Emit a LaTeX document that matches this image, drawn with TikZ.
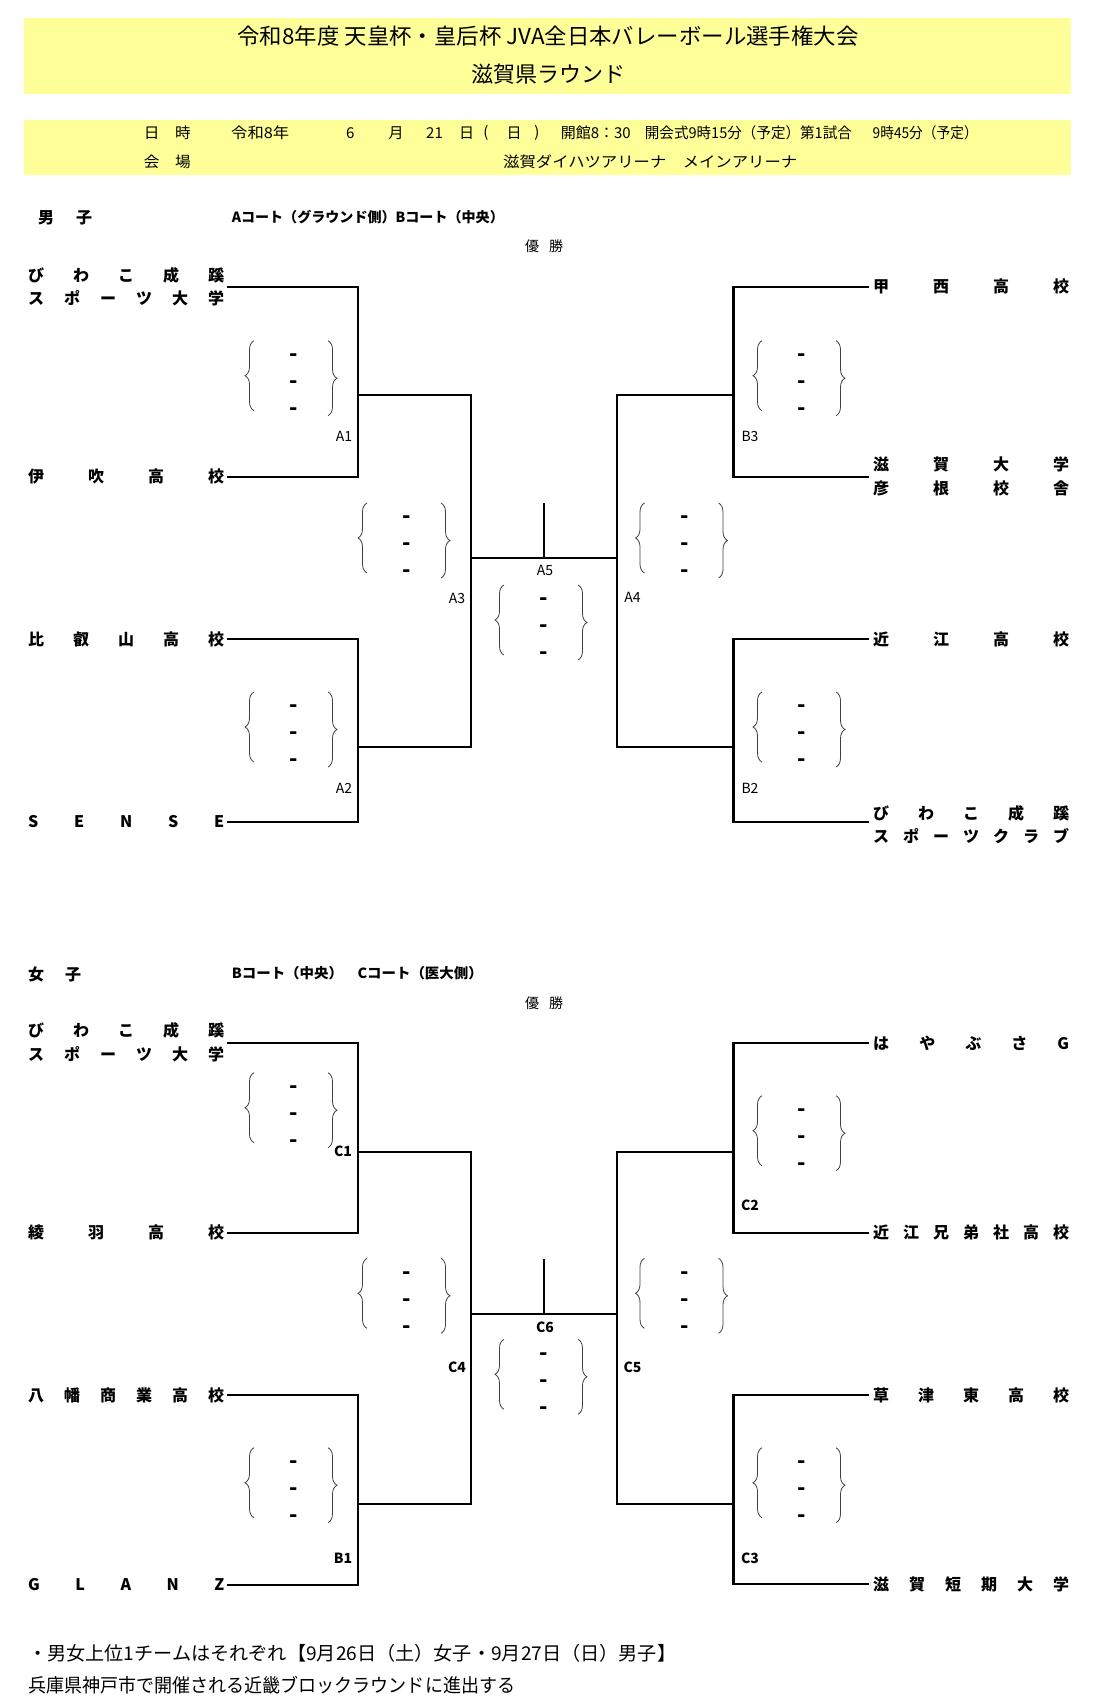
\documentclass[tikz,border=0pt]{standalone}
\usepackage{fontspec}
\setmainfont{Noto Sans CJK JP}
\usepackage{graphicx}
\usetikzlibrary{decorations.pathreplacing}
\definecolor{hdr}{RGB}{255,255,153}
\newcommand\fitw[3]{\resizebox{#1}{\height}{\fontsize{#2}{#2}\selectfont #3}}
\newcommand\spr[1]{\makebox[196pt][s]{#1}}
\newcommand\matchbox[3]{%
 \node[dashmark] (#1x) at (#2,#3+17) {-};
 \node[dashmark] (#1y) at (#2,#3+44) {-};
 \node[dashmark] (#1z) at (#2,#3+71) {-};
 \draw[brc] (#2-40,#3+70) -- (#2-40,#3);
 \draw[brc] (#2+34,#3) -- (#2+34,#3+75);
}
\begin{document}
\begin{tikzpicture}[x=1pt,y=-1pt,
  bline/.style={line width=2.2pt},
  tname/.style={inner sep=0pt, anchor=west, font=\fontsize{16}{16}\selectfont\bfseries},
  lbl/.style={inner sep=0pt, font=\fontsize{14}{14}\selectfont},
  blbl/.style={inner sep=0pt, font=\fontsize{14}{14}\selectfont\bfseries},
  txt/.style={inner sep=0pt, anchor=west},
  ctxt/.style={inner sep=0pt, font=\fontsize{15}{15}\selectfont},
  dashmark/.style={inner sep=0pt, font=\fontsize{22}{22}\selectfont\bfseries},
  brc/.style={decorate, decoration={brace, amplitude=9pt}, line width=0.8pt, draw=black!75},
]
\useasboundingbox (0,0) rectangle (1099,1704);
\fill[white] (0,0) rectangle (1099,1704);
% header
\fill[hdr] (24,18) rectangle (1071,93.7);
\fill[hdr] (24,120) rectangle (1071,175);
\node[inner sep=0pt] (title1) at (548,36) {\fitw{621pt}{22}{令和8年度 天皇杯・皇后杯 JVA全日本バレーボール選手権大会}};
\node[inner sep=0pt] (title2) at (548,74) {\fitw{154pt}{22}{滋賀県ラウンド}};
\node[txt] (h1) at (143.7,133) {\fitw{47pt}{15}{日　時}};
\node[txt] (h2) at (231,133) {\fitw{58pt}{15}{令和8年}};
\node[ctxt] (h3) at (350.4,133) {6};
\node[ctxt] (h4) at (396,133) {月};
\node[ctxt] (h5) at (434.5,133) {21};
\node[ctxt] (h6) at (466.7,133) {日};
\node[ctxt] (h7) at (486,133) {(};
\node[ctxt] (h8) at (514,133) {日};
\node[ctxt] (h9) at (537,133) {)};
\node[txt] (h10) at (560.6,133) {\fitw{70pt}{15}{開館8：30}};
\node[txt] (h11) at (644.7,133) {\fitw{207pt}{15}{開会式9時15分（予定）第1試合}};
\node[txt] (h12) at (872.5,133) {\fitw{105pt}{15}{9時45分（予定）}};
\node[txt] (h13) at (143.7,162) {\fitw{47pt}{15}{会　場}};
\node[txt] (h14) at (503,162) {\fitw{294pt}{15}{滋賀ダイハツアリーナ　メインアリーナ}};

% ===== Men =====
\node[txt,font=\fontsize{16}{16}\selectfont\bfseries] (mhead) at (38,217.5) {男\hspace{22pt}子};
\node[txt] (mcourt) at (231.6,216.7) {\fitw{272pt}{14}{\bfseries Aコート（グラウンド側）Bコート（中央）}};
\node[txt,font=\fontsize{14}{14}\selectfont] (mwin) at (525,246.5) {優\hspace{10pt}勝};

\node[tname] (mL1a) at (28,275) {\spr{び\hfill わ\hfill こ\hfill 成\hfill 蹊}};
\node[tname] (mL1b) at (28,298) {\spr{ス\hfill ポ\hfill ー\hfill ツ\hfill 大\hfill 学}};
\node[tname] (mL2) at (28,476.7) {\spr{伊\hfill 吹\hfill 高\hfill 校}};
\node[tname] (mL3) at (28,639) {\spr{比\hfill 叡\hfill 山\hfill 高\hfill 校}};
\node[tname] (mL4) at (28,821.7) {\spr{S\hfill E\hfill N\hfill S\hfill E}};
\node[tname] (mR1) at (873,286.7) {\spr{甲\hfill 西\hfill 高\hfill 校}};
\node[tname] (mR2a) at (873,464) {\spr{滋\hfill 賀\hfill 大\hfill 学}};
\node[tname] (mR2b) at (873,488) {\spr{彦\hfill 根\hfill 校\hfill 舎}};
\node[tname] (mR3) at (873,639) {\spr{近\hfill 江\hfill 高\hfill 校}};
\node[tname] (mR4a) at (873,813.3) {\spr{び\hfill わ\hfill こ\hfill 成\hfill 蹊}};
\node[tname] (mR4b) at (873,836) {\spr{ス\hfill ポ\hfill ー\hfill ツ\hfill ク\hfill ラ\hfill ブ}};

\coordinate (ma) at (227,286.7);
\coordinate (mb) at (227,476.7);
\coordinate (mc) at (227,639);
\coordinate (md) at (227,821.7);
\coordinate (mA1) at (358,395);
\coordinate (mA2) at (358,746.7);
\coordinate (mA3b) at (471,746.7);
\coordinate (mA3) at (471,557.7);
\coordinate (mA4) at (616.7,557.7);
\coordinate (mA5t) at (544,503);
\coordinate (mA5) at (544,557.7);
\coordinate (me) at (869,286.7);
\coordinate (mf) at (869,476.7);
\coordinate (mg) at (869,639);
\coordinate (mh) at (869,821.7);
\coordinate (mB3) at (733.5,395);
\coordinate (mB2) at (733.5,746.7);
\coordinate (mA4b) at (616.7,746.7);

\draw[bline] (ma) -- ++(131,0) |- (mb);
\draw[bline] (mc) -- ++(131,0) |- (md);
\draw[bline] (mA1) -| (mA3b) -- (mA2);
\draw[bline] (mA3) -- (mA4);
\draw[bline] (mA5t) -- (mA5);
\draw[bline] (me) -- ++(-135.5,0) |- (mf);
\draw[bline] (mg) -- ++(-135.5,0) |- (mh);
\draw[bline] (mB3) -| (mA4b) -- (mB2);

\matchbox{mbA1}{294}{340.7}
\matchbox{mbA2}{294}{692}
\matchbox{mbA3}{407}{503}
\matchbox{mbA5}{544}{585}
\matchbox{mbA4}{684.5}{503}
\matchbox{mbB3}{802}{340.7}
\matchbox{mbB2}{802}{692}

\node[lbl] (lA1) at (344,436.7) {A1};
\node[lbl] (lA2) at (344,788) {A2};
\node[lbl] (lA3) at (457,598) {A3};
\node[lbl] (lA4) at (632.5,597.3) {A4};
\node[lbl] (lA5) at (545,570) {A5};
\node[lbl] (lB3) at (750,436.7) {B3};
\node[lbl] (lB2) at (750,788) {B2};

% ===== Women =====
\node[txt,font=\fontsize{16}{16}\selectfont\bfseries] (whead) at (28,974.3) {女\hspace{21pt}子};
\node[txt] (wcourt) at (231.6,973.3) {\fitw{251pt}{14}{\bfseries Bコート（中央）　Cコート（医大側）}};
\node[txt,font=\fontsize{14}{14}\selectfont] (wwin) at (525,1002.7) {優\hspace{10pt}勝};

\node[tname] (wL1a) at (28,1030.7) {\spr{び\hfill わ\hfill こ\hfill 成\hfill 蹊}};
\node[tname] (wL1b) at (28,1054) {\spr{ス\hfill ポ\hfill ー\hfill ツ\hfill 大\hfill 学}};
\node[tname] (wL2) at (28,1232.7) {\spr{綾\hfill 羽\hfill 高\hfill 校}};
\node[tname] (wL3) at (28,1395) {\spr{八\hfill 幡\hfill 商\hfill 業\hfill 高\hfill 校}};
\node[tname] (wL4) at (28,1585) {\spr{G\hfill L\hfill A\hfill N\hfill Z}};
\node[tname] (wR1) at (873,1043.3) {\spr{は\hfill や\hfill ぶ\hfill さ\hfill G}};
\node[tname] (wR2) at (873,1232.7) {\spr{近\hfill 江\hfill 兄\hfill 弟\hfill 社\hfill 高\hfill 校}};
\node[tname] (wR3) at (873,1395) {\spr{草\hfill 津\hfill 東\hfill 高\hfill 校}};
\node[tname] (wR4) at (873,1584.3) {\spr{滋\hfill 賀\hfill 短\hfill 期\hfill 大\hfill 学}};

\coordinate (wa) at (227,1043.3);
\coordinate (wb) at (227,1232.7);
\coordinate (wc) at (227,1395);
\coordinate (wd) at (227,1585);
\coordinate (wC1) at (358,1151.7);
\coordinate (wB1) at (358,1504);
\coordinate (wC4b) at (471,1504);
\coordinate (wC4) at (471,1314);
\coordinate (wC5) at (616.7,1314);
\coordinate (wC6t) at (544,1259.3);
\coordinate (wC6) at (544,1314);
\coordinate (we) at (869,1043.3);
\coordinate (wf) at (869,1232.7);
\coordinate (wg) at (869,1395);
\coordinate (wh) at (869,1584.3);
\coordinate (wC2) at (733.5,1151.7);
\coordinate (wC3) at (733.5,1504);
\coordinate (wC5b) at (616.7,1504);

\draw[bline] (wa) -- ++(131,0) |- (wb);
\draw[bline] (wc) -- ++(131,0) |- (wd);
\draw[bline] (wC1) -| (wC4b) -- (wB1);
\draw[bline] (wC4) -- (wC5);
\draw[bline] (wC6t) -- (wC6);
\draw[bline] (we) -- ++(-135.5,0) |- (wf);
\draw[bline] (wg) -- ++(-135.5,0) |- (wh);
\draw[bline] (wC2) -| (wC5b) -- (wC3);

\matchbox{mbC1}{294}{1072.7}
\matchbox{mbB1}{294}{1447.7}
\matchbox{mbC4}{407}{1258.3}
\matchbox{mbC6}{544}{1339.3}
\matchbox{mbC5}{684.5}{1258.3}
\matchbox{mbC2}{802}{1095.7}
\matchbox{mbC3}{802}{1447.7}

\node[blbl] (lC1) at (343,1151.7) {C1};
\node[blbl] (lB1) at (343,1558.3) {B1};
\node[blbl] (lC4) at (457,1367.3) {C4};
\node[blbl] (lC5) at (632.5,1367.3) {C5};
\node[blbl] (lC6) at (545,1327.3) {C6};
\node[blbl] (lC2) at (750,1205.7) {C2};
\node[blbl] (lC3) at (750,1558.3) {C3};

% footer
\node[txt] (f1) at (28,1653) {\fitw{648pt}{19}{・男女上位1チームはそれぞれ【9月26日（土）女子・9月27日（日）男子】}};
\node[txt] (f2) at (28,1685) {\fitw{487pt}{19}{兵庫県神戸市で開催される近畿ブロックラウンドに進出する}};
\end{tikzpicture}
\end{document}
